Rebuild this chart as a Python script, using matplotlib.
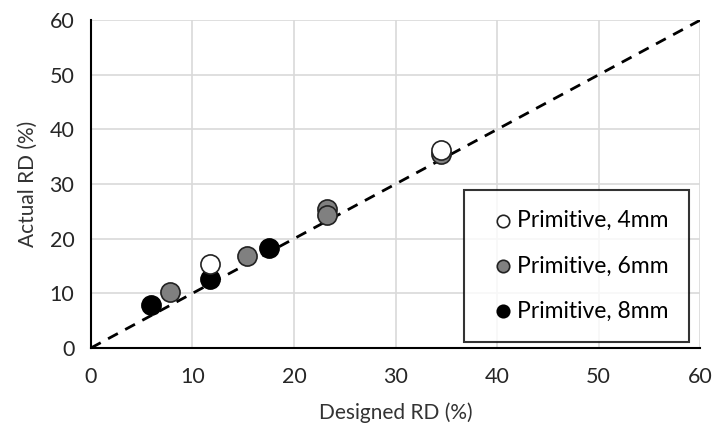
import matplotlib.pyplot as plt

# designed vs actual relative density (%)
d_4mm = [11.7, 34.5]
a_4mm = [15.3, 36.3]
d_6mm = [7.8, 15.4, 23.2, 23.2, 34.5]
a_6mm = [10.2, 16.9, 25.4, 24.3, 35.5]
d_8mm = [5.9, 11.7, 17.5]
a_8mm = [7.8, 12.7, 18.3]

plt.rcParams['font.family'] = ['Lato', 'DejaVu Sans']

fig = plt.figure(figsize=(7.16, 4.28), dpi=100)
ax = fig.add_axes([0.127, 0.187, 0.851, 0.766])

ax.plot([0, 60], [0, 60], color='black', linestyle=(0, (4, 3)), linewidth=2, zorder=2)

# later series drawn first so 4mm sits on top like the original
ax.scatter(d_8mm, a_8mm, s=190, facecolor='black', edgecolor='black', linewidth=1.2,
           zorder=3, label='Primitive, 8mm')
ax.scatter(d_6mm, a_6mm, s=190, facecolor='#808080', edgecolor='#222222', linewidth=1.2,
           zorder=4, label='Primitive, 6mm')
ax.scatter(d_4mm, a_4mm, s=190, facecolor='white', edgecolor='#222222', linewidth=1.2,
           zorder=5, label='Primitive, 4mm')

ax.set_xlim(0, 60)
ax.set_ylim(0, 60)
ax.set_xticks(range(0, 61, 10))
ax.set_yticks(range(0, 61, 10))
ax.grid(True, color='#d9d9d9', linewidth=1.2, zorder=0)
ax.set_axisbelow(True)
for s in ['top', 'right']:
    ax.spines[s].set_visible(False)
for s in ['left', 'bottom']:
    ax.spines[s].set_linewidth(1.5)
ax.tick_params(length=0, labelsize=15.5, colors='#262626')
ax.tick_params(axis='x', pad=14)
ax.tick_params(axis='y', pad=12)
ax.set_xlabel('Designed RD (%)', fontsize=15, color='#333333', labelpad=11)
ax.set_ylabel('Actual RD (%)', fontsize=15, color='#333333', labelpad=8)

h, l = ax.get_legend_handles_labels()
leg = ax.legend(h[::-1], l[::-1], loc='lower right', bbox_to_anchor=(0.982, 0.018),
                fontsize=16.5, frameon=True, fancybox=False, edgecolor='black',
                labelspacing=1.05, handlelength=1.57, handletextpad=-0.17, borderpad=0.9,
                markerscale=0.65, scatterpoints=1, borderaxespad=0)
leg.get_frame().set_linewidth(1.5)

fig.savefig('out.png', dpi=100)
